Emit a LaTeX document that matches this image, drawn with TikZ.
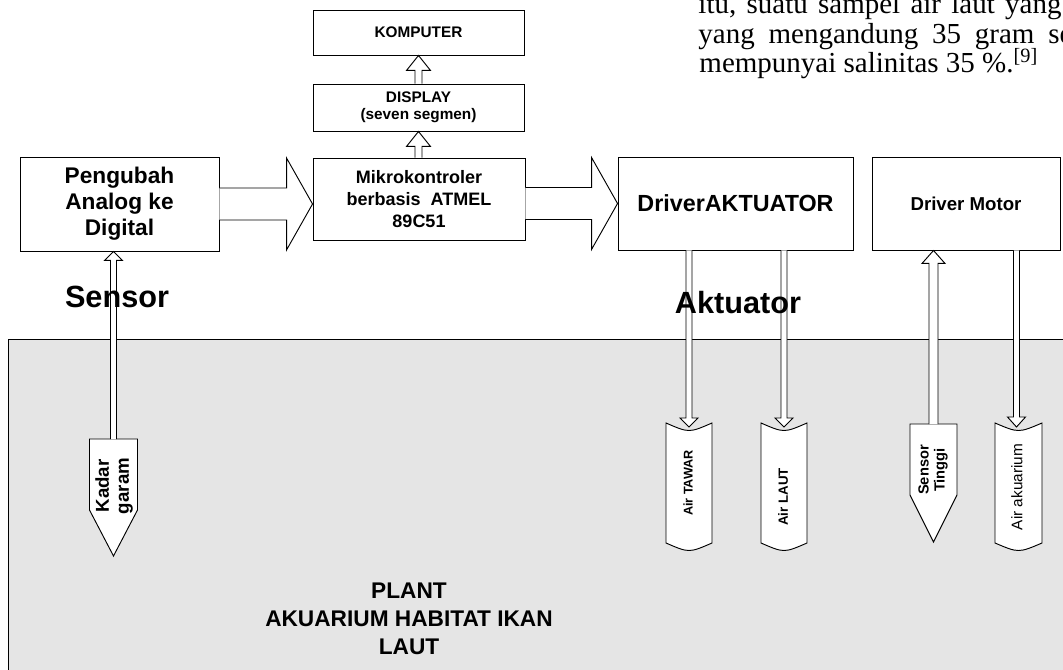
\documentclass[tikz,border=0pt]{standalone}
\usepackage{fontspec}
\setmainfont{Liberation Serif}
\setsansfont{Liberation Sans}
\usetikzlibrary{calc}

% panah blok besar: #1 pangkal, #2 ujung
\newcommand{\panahblok}[2]{%
  \draw[fill=white] ($(#1)+(0,-16)$) -- ($(#2)+(-26,-16)$) -- ($(#2)+(-26,-46)$) -- (#2)
    -- ($(#2)+(-26,46)$) -- ($(#2)+(-26,16)$) -- ($(#1)+(0,16)$);}

% panah tipis: #1 pangkal, #2 ujung, #3 batang, #4 kepala, #5 panjang kepala
\newcommand{\panahnaik}[5]{%
  \draw[fill=white] ($(#2 |- #1)+(-#3,0)$) -- ($(#2)+(-#3,#5)$) -- ($(#2)+(-#4,#5)$) -- (#2)
    -- ($(#2)+(#4,#5)$) -- ($(#2)+(#3,#5)$) -- ($(#2 |- #1)+(#3,0)$);}
\newcommand{\panahturun}[5]{%
  \draw[fill=white] ($(#2 |- #1)+(-#3,0)$) -- ($(#2)+(-#3,-#5)$) -- ($(#2)+(-#4,-#5)$) -- (#2)
    -- ($(#2)+(#4,-#5)$) -- ($(#2)+(#3,-#5)$) -- ($(#2 |- #1)+(#3,0)$);}

% sensor lancip: #1 tengah atas, #2 setengah lebar, #3 tinggi badan, #4 panjang ujung
\newcommand{\gambarprobe}[4]{%
  \draw[fill=white] ($(#1)+(-#2,0)$) -- ($(#1)+(#2,0)$) -- ($(#1)+(#2,#3)$) -- ($(#1)+(0,#3+#4)$)
    -- ($(#1)+(-#2,#3)$) -- cycle;}

% tabung air: #1 tengah atas, #2 setengah lebar, #3 tinggi
\newcommand{\gambartabung}[3]{%
  \draw[fill=white] ($(#1)+(-#2,0)$) .. controls ($(#1)+(0,10)$) .. ($(#1)+(#2,0)$) -- ($(#1)+(#2,#3)$)
    .. controls ($(#1)+(0,#3+10)$) .. ($(#1)+(-#2,#3)$) -- cycle;}

\begin{document}
\begin{tikzpicture}[x=0.75pt, y=-0.75pt, line width=0.7pt,
    blok/.style={draw, fill=white, align=center, inner sep=0pt, font=\sffamily\bfseries},
    tekslabel/.style={inner sep=0pt, font=\sffamily\bfseries\fontsize{23}{26}\selectfont},
    isi/.style={rotate=90, align=center, inner sep=0pt, font=\sffamily\bfseries},
    paragraf/.style={anchor=base west, inner sep=0pt, font=\rmfamily\fontsize{21.75}{26}\selectfont}
]
\useasboundingbox (0,0) rectangle (1063,670);

% Teks paragraf di atas
\node (baris1) at (698,14) [paragraf] {\hbox to 272.25pt{itu,\hfil suatu\hfil sampel\hfil air\hfil laut\hfil yang}};
\node (baris2) at (698,43.5) [paragraf] {\hbox to 280.5pt{yang\hfil mengandung\hfil 35\hfil gram\hfil se}};
\node (baris3) at (699,72.5) [paragraf] {mempunyai salinitas 35 \%.\textsuperscript{[9]}};

% Plant
\draw[fill=gray!20] (8,339) rectangle (1080,690);
\node (plant) at (409,619) [align=center, inner sep=0pt, font=\sffamily\bfseries\fontsize{17}{21}\selectfont] {PLANT\\AKUARIUM HABITAT IKAN\\LAUT};

% Blok
\node (komputer) at (418.5,32.5) [blok, minimum width=158.25pt, minimum height=33.75pt, font=\sffamily\bfseries\fontsize{11.5}{13}\selectfont] {KOMPUTER};
\node (display) at (418.5,107.5) [blok, minimum width=158.25pt, minimum height=35.25pt, font=\sffamily\bfseries\fontsize{11.5}{12.75}\selectfont] {DISPLAY\\(seven segmen)};
\node (mikro) at (419,199) [blok, minimum width=159pt, minimum height=61.5pt, font=\sffamily\bfseries\fontsize{13.5}{16.5}\selectfont] {Mikrokontroler\\berbasis\ \ ATMEL\\89C51};
\node (adc) at (119.5,204) [blok, minimum width=149.25pt, minimum height=70.5pt, font=\sffamily\bfseries\fontsize{17}{19.5}\selectfont] {Pengubah\\Analog ke\\Digital};
\node (drvakt) at (735.5,203.5) [blok, minimum width=176.25pt, minimum height=69.75pt, font=\sffamily\bfseries\fontsize{17.5}{20}\selectfont] {DriverAKTUATOR};
\node (drvmotor) at (966,203.5) [blok, minimum width=141pt, minimum height=69.75pt, font=\sffamily\bfseries\fontsize{14}{16}\selectfont] {Driver Motor};

% Titik sensor dan tabung
\coordinate (pKadar) at (113.5,439);
\coordinate (pTinggi) at (933.5,424);
\coordinate (tTawar) at (689,423);
\coordinate (tLaut) at (784,423);
\coordinate (tAkuarium) at (1018.5,423);

\gambarprobe{pKadar}{24}{71}{46}
\gambarprobe{pTinggi}{23.5}{71}{47}
\gambartabung{tTawar}{23}{120}
\gambartabung{tLaut}{23}{120}
\gambartabung{tAkuarium}{23.5}{120}

% Ujung panah
\coordinate (uMikro) at (adc.east -| mikro.west);
\coordinate (aMikro) at (mikro.east |- drvakt.west);
\coordinate (uSensor) at (adc.south -| pKadar);
\coordinate (uTinggi) at (drvmotor.south -| pTinggi);
\coordinate (uTawar) at ($(tTawar)+(0,4)$);
\coordinate (uLaut) at ($(tLaut)+(0,4)$);
\coordinate (uAkuarium) at ($(tAkuarium)+(-2,4)$);

% Panah
\panahblok{adc.east}{uMikro}
\panahblok{aMikro}{drvakt.west}
\panahnaik{mikro.north}{display.south}{3.5}{12}{15}
\panahnaik{display.north}{komputer.south}{3.5}{12}{15}
\panahnaik{pKadar}{uSensor}{3}{9}{9}
\panahnaik{pTinggi}{uTinggi}{4.5}{11.5}{13}
\panahturun{drvakt.south}{uTawar}{3}{9}{9}
\panahturun{drvakt.south}{uLaut}{3}{9}{9}
\panahturun{drvmotor.south}{uAkuarium}{3}{9}{10}

% Label
\node (sensor) at (117,307) [tekslabel, anchor=base] {Sensor};
\node (aktuator) at (738,313) [tekslabel, anchor=base] {Aktuator};

% Teks dalam sensor dan tabung
\node (kadar) at (114,486) [isi, font=\sffamily\bfseries\fontsize{14}{15}\selectfont] {Kadar\\garam};
\node (tinggi) at (933,470) [isi, font=\sffamily\bfseries\fontsize{11}{12}\selectfont] {Sensor\\Tinggi};
\node (tawar) at (688,483) [isi, font=\sffamily\bfseries\fontsize{9.5}{11}\selectfont] {Air TAWAR};
\node (laut) at (783,497) [isi, font=\sffamily\bfseries\fontsize{10}{12}\selectfont] {Air LAUT};
\node (akuarium) at (1017,487) [isi, font=\sffamily\fontsize{11.5}{13}\selectfont] {Air akuarium};

\end{tikzpicture}
\end{document}
